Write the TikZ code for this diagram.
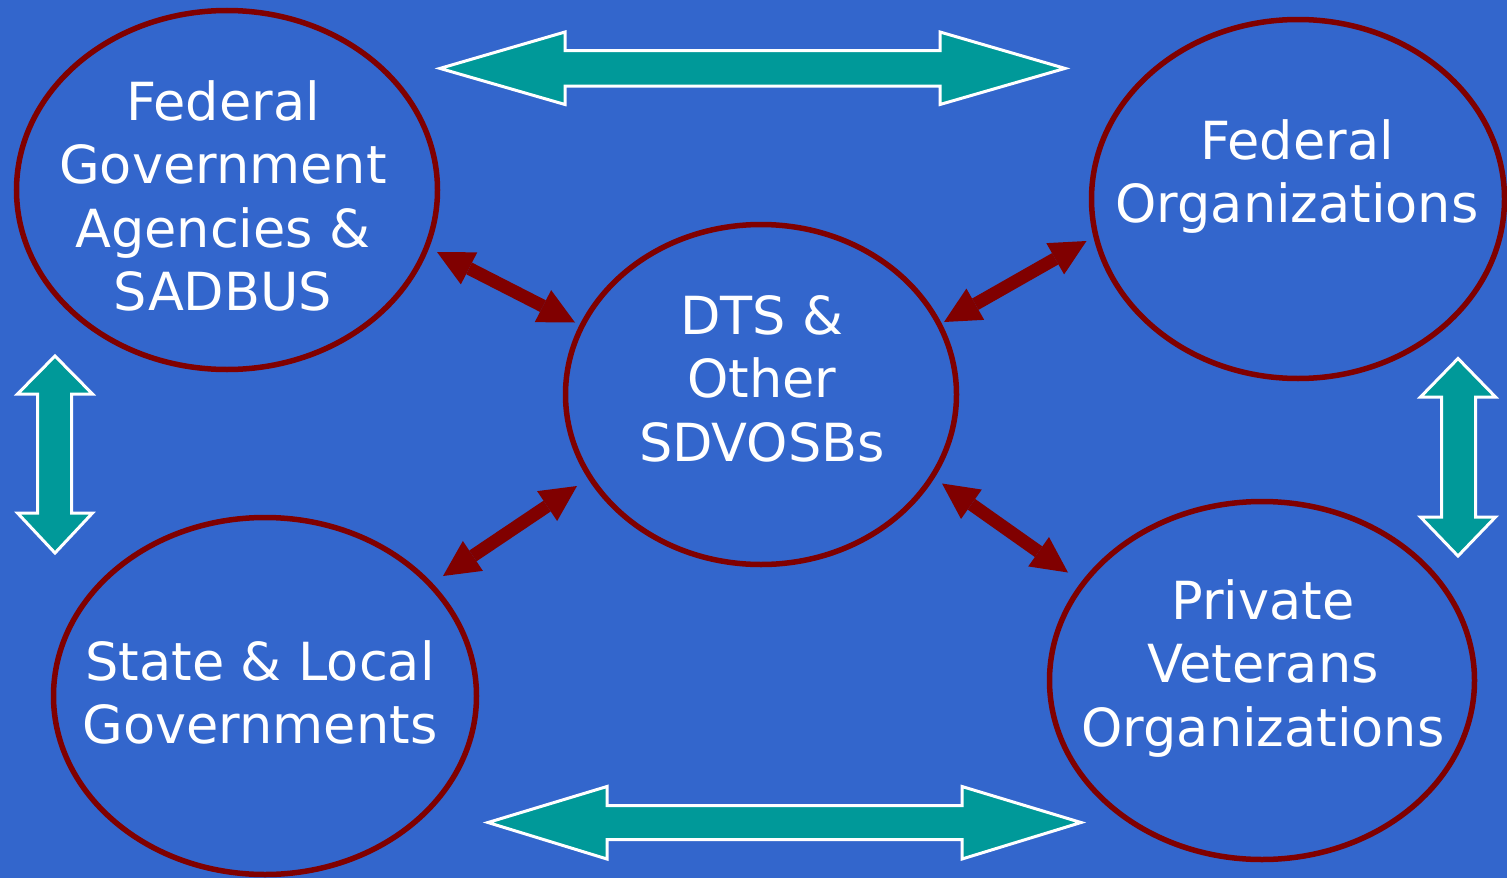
\documentclass[tikz,border=0pt]{standalone}
\usepackage{fontspec}
\setmainfont{DejaVu Sans}
\usetikzlibrary{arrows.meta,shapes.geometric}
\definecolor{bg}{HTML}{3366CC}
\definecolor{tealc}{HTML}{009999}
\definecolor{dred}{HTML}{800000}
\begin{document}
\begin{tikzpicture}[x=1pt,y=-1pt,
  ellbox/.style={ellipse, draw=dred, line width=5.5pt, inner sep=0pt, fill=bg},
  lbl/.style={text=white, inner sep=0pt, anchor=base, font=\fontsize{52.5}{63.5}\selectfont},
  redarrow/.style={draw=dred, line width=13pt,
    {Triangle[length=36pt,width=36pt,line width=0pt]}-{Triangle[length=36pt,width=36pt,line width=0pt]}},
  tealarrow/.style={fill=tealc, draw=white, line width=3pt, line join=miter}]
\fill[bg] (0,0) rectangle (1507,878);
\useasboundingbox (0,0) rectangle (1507,878);

% ellipses
\node[ellbox, minimum width=421pt, minimum height=359pt] (fedgov) at (227,190) {};
\node[ellbox, minimum width=413pt, minimum height=359pt] (fedorg) at (1298,199) {};
\node[ellbox, minimum width=391pt, minimum height=340pt] (dts) at (761,394.5) {};
\node[ellbox, minimum width=423pt, minimum height=357pt] (state) at (265,696) {};
\node[ellbox, minimum width=425pt, minimum height=358pt] (priv) at (1262,680.5) {};

% labels
\node[lbl] (tfedgov) at (223,120) {\begin{tabular}[t]{@{}c@{}}Federal\\Government\\Agencies \&\\SADBUS\end{tabular}};
\node[lbl] (tfedorg) at (1297,159) {\begin{tabular}[t]{@{}c@{}}Federal\\Organizations\end{tabular}};
\node[lbl] (tdts) at (762,334) {\begin{tabular}[t]{@{}c@{}}DTS \&\\Other\\SDVOSBs\end{tabular}};
\node[lbl] (tstate) at (260,680) {\begin{tabular}[t]{@{}c@{}}State \& Local\\Governments\end{tabular}};
\node[lbl] (tpriv) at (1263,619) {\begin{tabular}[t]{@{}c@{}}Private\\Veterans\\Organizations\end{tabular}};

% teal block arrows
\draw[tealarrow] (440,68.4) -- (565,32) -- (565,50.5) -- (940,50.5) -- (940,32) -- (1065,68.4)
  -- (940,104.5) -- (940,86) -- (565,86) -- (565,104.5) -- cycle;
\draw[tealarrow] (488,822.5) -- (607,786.5) -- (607,805.5) -- (962,805.5) -- (962,786.5) -- (1081,822.5)
  -- (962,859) -- (962,839.5) -- (607,839.5) -- (607,859) -- cycle;
\draw[tealarrow] (55,356) -- (92.5,394) -- (71.5,394) -- (71.5,513) -- (92.5,513) -- (55,553)
  -- (17.5,513) -- (37.5,513) -- (37.5,394) -- (17.5,394) -- cycle;
\draw[tealarrow] (1458,358.5) -- (1495.5,397) -- (1475.5,397) -- (1475.5,517) -- (1495.5,517) -- (1458,556)
  -- (1420.5,517) -- (1441.5,517) -- (1441.5,397) -- (1420.5,397) -- cycle;

% red double arrows
\coordinate (a1s) at (437,252);
\coordinate (a1e) at (575,322.5);
\coordinate (a2s) at (944,322);
\coordinate (a2e) at (1086.5,241);
\coordinate (a3s) at (577,486);
\coordinate (a3e) at (443,576);
\coordinate (a4s) at (942,483.5);
\coordinate (a4e) at (1068,572.5);
\draw[redarrow] (a1s) -- (a1e);
\draw[redarrow] (a2s) -- (a2e);
\draw[redarrow] (a3s) -- (a3e);
\draw[redarrow] (a4s) -- (a4e);
\end{tikzpicture}
\end{document}
